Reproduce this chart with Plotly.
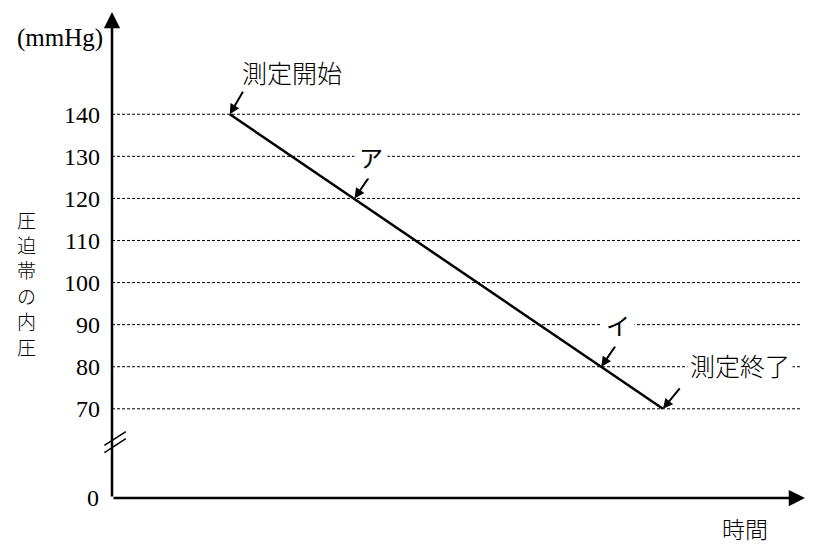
import plotly.graph_objects as go

# measured line: cuff pressure falling over time
time_pts = [17.0, 79.5]
pressure_pts = [140, 70]

# y ticks (axis is broken between 0 and 70)
tick_vals = [70, 80, 90, 100, 110, 120, 130, 140]
tick_text = ["70", "80", "90", "100", "110", "120", "130", "140"]

# points picked out on the line
mark_labels = ["ア", "イ"]
mark_times = [35.0, 70.6]
mark_pressures = [120, 80]

y_title = "圧迫帯の内圧"

ZERO_POS = 48.8   # where "0" sits on the broken axis
Y_TOP = 164.3
X_END = 100

JP = "Noto Sans CJK JP"
SERIF = "Liberation Serif"

fig = go.Figure()

fig.add_trace(go.Scatter(
    x=time_pts, y=pressure_pts, mode="lines",
    line=dict(color="black", width=2.5),
    hoverinfo="skip", showlegend=False,
))

shapes = []
# dashed grid lines
for v in tick_vals:
    shapes.append(dict(type="line", xref="x", yref="y", x0=0, x1=99.4, y0=v, y1=v,
                       line=dict(color="black", width=1, dash="3px,2px"), layer="below"))

annotations = []

# axes with arrow heads
annotations.append(dict(x=0, y=Y_TOP, ax=0, ay=ZERO_POS, xref="x", yref="y",
                        axref="x", ayref="y", text="", showarrow=True,
                        arrowhead=2, arrowsize=1.3, arrowwidth=2.5, arrowcolor="black"))
annotations.append(dict(x=X_END, y=ZERO_POS, ax=0, ay=ZERO_POS, xref="x", yref="y",
                        axref="x", ayref="y", text="", showarrow=True,
                        arrowhead=2, arrowsize=1.3, arrowwidth=2.5, arrowcolor="black"))

# break mark on y axis
shapes.append(dict(type="line", xref="paper", yref="y", x0=-0.01, x1=0.01,
                   y0=60.4, y1=63.9, line=dict(color="white", width=6)))
shapes.append(dict(type="line", xref="paper", yref="y", x0=-0.011, x1=0.02,
                   y0=59.6, y1=62.9, line=dict(color="black", width=1.5)))
shapes.append(dict(type="line", xref="paper", yref="y", x0=-0.011, x1=0.02,
                   y0=61.3, y1=64.6, line=dict(color="black", width=1.5)))

# "0" label at origin
annotations.append(dict(x=0, y=ZERO_POS, xref="x", yref="y", text="0", showarrow=False,
                        xanchor="right", xshift=-11, font=dict(family=SERIF, size=24, color="black")))

jp_font = lambda s: dict(family=JP, size=s, color="black", weight=300)

# start / end labels
annotations.append(dict(x=time_pts[0], y=pressure_pts[0], xref="x", yref="y", text="",
                        showarrow=True, ax=14, ay=-24, arrowhead=2, arrowsize=1,
                        arrowwidth=2, arrowcolor="black"))
annotations.append(dict(x=26.0, y=150.0, xref="x", yref="y", text="測定開始",
                        showarrow=False, font=jp_font(25)))
annotations.append(dict(x=time_pts[1], y=pressure_pts[1], xref="x", yref="y", text="",
                        showarrow=True, ax=18, ay=-22, arrowhead=2, arrowsize=1,
                        arrowwidth=2, arrowcolor="black"))
annotations.append(dict(x=98.2, y=80.5, xref="x", yref="y", text="測定終了", xanchor="right",
                        showarrow=False, bgcolor="white", borderpad=2, font=jp_font(25)))

# ア / イ labels
for lab, t, p in zip(mark_labels, mark_times, mark_pressures):
    annotations.append(dict(x=t, y=p, xref="x", yref="y", text="", showarrow=True,
                            ax=15, ay=-22, arrowhead=2, arrowsize=1,
                            arrowwidth=2, arrowcolor="black"))
    annotations.append(dict(x=t + 2.4, y=p + 10, xref="x", yref="y", text=lab,
                            showarrow=False, bgcolor="white", borderpad=4,
                            font=dict(family=JP, size=24, color="black")))

# axis titles
annotations.append(dict(x=-0.01, y=Y_TOP - 6.2, xref="paper", yref="y", text="(mmHg)",
                        showarrow=False, xanchor="right",
                        font=dict(family=SERIF, size=25, color="black")))
# vertical y title, one character per annotation
n = len(y_title)
for i, ch in enumerate(y_title):
    annotations.append(dict(x=-0.14, y=100, xref="paper", yref="y", text=ch,
                            showarrow=False, yshift=(n / 2 - 0.5 - i) * 25.4,
                            font=jp_font(19)))
annotations.append(dict(x=91.4, y=ZERO_POS, xref="x", yref="y", text="時間",
                        showarrow=False, yshift=-30, font=jp_font(23)))

# page body has an 8px margin, so the figure is shrunk and shifted to fit the window
fig.update_layout(
    width=810, height=545,
    margin=dict(l=104, r=13, t=4, b=55),
    paper_bgcolor="white", plot_bgcolor="white",
    shapes=shapes, annotations=annotations,
    xaxis=dict(range=[0, X_END], showgrid=False, zeroline=False, showline=False,
               showticklabels=False, ticks=""),
    yaxis=dict(range=[ZERO_POS, Y_TOP], tickvals=tick_vals, ticktext=tick_text,
               showgrid=False, zeroline=False, showline=False, ticks="",
               ticklabelstandoff=11, tickfont=dict(family=SERIF, size=24, color="black")),
)

fig.write_html("out.html")
